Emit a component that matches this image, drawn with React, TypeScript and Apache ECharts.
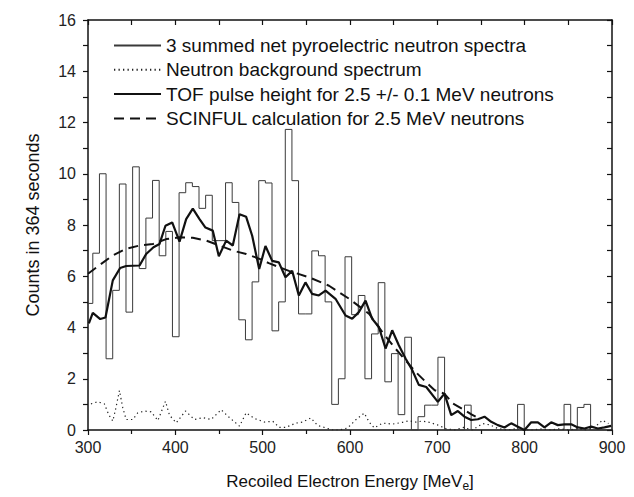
import React, { useEffect, useRef } from "react";
import * as echarts from "echarts";

// ---- histogram: 3 summed net pyroelectric neutron spectra ----
const histStart = 297.9; // MeV, left edge of first (partial) bin
const histWidth = 7.6; // MeV per bin
const histCounts = [
  4.94, 6.9, 10.0, 2.78, 5.45, 9.6, 4.6, 10.27, 6.3, 8.27,
  9.74, 6.8, 7.75, 3.64, 9.26, 9.65, 9.5, 8.65, 9.16, 7.39,
  7.39, 9.65, 8.88, 4.3, 3.52, 5.78, 9.73, 9.64, 3.87, 5.0,
  11.73, 9.73, 4.53, 4.53, 6.99, 6.8, 5.0, 1.0, 2.0, 6.76,
  4.5, 5.25, 2.0, 3.75, 5.75, 1.88, 2.98, 0.6, 3.62, 0,
  0.52, 0.97, 0.97, 2.84, 0, 0, 0, 0.97, 0, 0,
  0, 0, 0, 0, 0, 1.0, 0, 0, 0, 0,
  0, 0, 1.0, 0, 0.88, 1.0, 0, 0, 0, 0,
];

// ---- neutron background spectrum ----
const bgEnergy = [
  303.4, 311, 318.7, 323.7, 328.4, 332, 336, 339.8, 343.7, 351.3,
  357, 364.7, 372.3, 380, 388.7, 393.3, 401, 411.6, 421.9, 431.5,
  441, 452.5, 460.1, 466.6, 473.5, 481.1, 490.6, 502, 511.6, 519,
  526.5, 538, 545.7, 555.2, 562.8, 572.4, 580, 587.6, 597.2, 606.7,
  616.3, 622, 627.7, 637.3, 648.7, 660.2, 667.8, 675.4, 683, 690.7,
  700, 710, 720, 730, 740, 752, 760, 770, 780, 790,
  800, 810, 820, 830, 840, 850, 860, 870, 880, 889, 896,
];
const bgCounts = [
  1.02, 1.1, 1.02, 0.6, 0.35, 0.87, 1.54, 0.87, 0.41, 0.41,
  0.67, 0.74, 0.71, 0.37, 1.12, 0.58, 0.28, 0.74, 0.41, 0.48,
  0.41, 0.79, 0.54, 0.35, 0.15, 0.67, 0.45, 0.31, 0.34, 0.1,
  0.1, 0.27, 0.31, 0.47, 0.18, 0.08, 0.0, 0.0, 0.08, 0.4,
  0.66, 0.31, 0.08, 0.27, 0.23, 0.3, 0.36, 0.31, 0.35, 0.3,
  0.2, 0.05, 0.0, 0.1, 0.0, 0.25, 0.2, 0.05, 0.0, 0.05,
  0.0, 0.0, 0.05, 0.0, 0.05, 0.0, 0.05, 0.0, 0.1, 0.38, 0.25,
];

// ---- TOF pulse height for 2.5 +/- 0.1 MeV neutrons ----
const tofEnergy = [
  301, 305.5, 314, 320, 328.4, 336.8, 343.7, 359, 366.6, 375,
  381.9, 388.7, 396.4, 404.8, 412.4, 420, 427.7, 434.5, 442.9, 449.8,
  458.2, 465.8, 473.5, 481.1, 488, 496, 503.2, 510.9, 518.5, 526.1,
  533.8, 541.4, 549, 556.7, 564.3, 572, 583.4, 594.9, 602.5, 610.1,
  617.8, 625.4, 633, 640.7, 648.3, 655.9, 663.6, 671.2, 678.8, 687.3,
  700.6, 708.2, 715.9, 723.5, 731.1, 738.8, 746.4, 754, 761.7, 769.3,
  776.9, 784.6, 792.2, 799.8, 807.5, 815.1, 822.7, 830.4, 838, 845.6,
  853.3, 860.9, 868.5, 876.2, 883.8, 891.4, 899,
];
const tofCounts = [
  4.16, 4.57, 4.33, 4.39, 5.84, 6.32, 6.4, 6.42, 6.87, 7.13,
  7.26, 7.97, 8.1, 7.35, 8.23, 8.64, 8.23, 7.9, 7.78, 6.78,
  7.39, 7.2, 8.42, 8.32, 7.58, 6.28, 7.18, 6.6, 6.54, 5.96,
  6.21, 5.25, 5.76, 5.31, 5.25, 5.44, 5.12, 4.47, 4.34, 4.6,
  5.05, 4.34, 4.02, 3.18, 3.89, 3.31, 2.79, 2.34, 1.76, 1.68,
  1.1, 1.42, 0.58, 0.74, 0.52, 0.39, 0.42, 0.52, 0.32, 0.19,
  0.1, 0.26, 0.13, 0.0, 0.3, 0.3, 0.1, 0.3, 0.19, 0.22,
  0.22, 0.1, 0.06, 0.13, 0.06, 0.1, 0.16,
];

// ---- SCINFUL calculation for 2.5 MeV neutrons ----
const scinEnergy = [
  300, 312.6, 328.4, 343.7, 359, 374.3, 389.6, 404.8, 420, 435.4,
  450.6, 465.8, 481.1, 496.4, 507, 530, 553, 576, 599, 622,
  637, 652, 675, 687, 697, 708, 718, 731, 739, 745,
];
const scinCounts = [
  6.1, 6.42, 6.81, 7.07, 7.2, 7.26, 7.45, 7.52, 7.5, 7.39,
  7.2, 7.0, 6.87, 6.68, 6.51, 6.21, 5.96, 5.63, 5.12, 4.53,
  3.82, 3.18, 2.27, 1.87, 1.55, 1.42, 1.03, 0.78, 0.61, 0.5,
];

const xMin = 300;
const xMax = 900;
const xInterval = 100;
const yMin = 0;
const yMax = 16;
const yInterval = 2;

const seriesNames = [
  "3 summed net pyroelectric neutron spectra",
  "Neutron background spectrum",
  "TOF pulse height for 2.5 +/- 0.1 MeV neutrons",
  "SCINFUL calculation for 2.5 MeV neutrons",
];

const FONT = "'Liberation Sans', Arial, Helvetica, sans-serif";

export default function App() {
  const ref = useRef<HTMLDivElement>(null);

  useEffect(() => {
    if (!ref.current) return;
    const chart = echarts.init(ref.current, undefined, { renderer: "svg" });

    const histData: number[][] = histCounts.map((v, i) => [histStart + i * histWidth, v]);
    histData.push([histStart + histCounts.length * histWidth, 0]);

    const pair = (xs: number[], ys: number[]) => xs.map((x, i) => [x, ys[i]]);

    chart.setOption({
      animation: false,
      backgroundColor: "#ffffff",
      textStyle: { fontFamily: FONT },
      grid: { left: 88, right: 22, top: 20, bottom: 65, containLabel: false },
      legend: {
        left: 113,
        top: 36,
        padding: 0,
        orient: "vertical",
        itemWidth: 47,
        itemHeight: 14,
        itemGap: 5.3,
        selectedMode: false,
        itemStyle: { opacity: 0 },
        textStyle: { fontSize: 19, color: "#111", fontFamily: FONT, lineHeight: 19 },
        data: seriesNames,
      },
      xAxis: [
        {
          type: "value",
          position: "bottom",
          min: xMin,
          max: xMax,
          interval: xInterval,
          axisLine: { onZero: false, lineStyle: { color: "#111", width: 1.5 } },
          axisTick: { inside: false, length: 5, lineStyle: { color: "#111", width: 1.2 } },
          minorTick: { show: true, splitNumber: 2, length: 4, lineStyle: { color: "#111", width: 1.2 } },
          axisLabel: { fontSize: 16, color: "#222", margin: 9, fontFamily: FONT },
          splitLine: { show: false },
          name: "{a|Recoiled Electron Energy [MeV}{s|e}{a|]}",
          nameLocation: "middle",
          nameGap: 40,
          nameTextStyle: {
            rich: {
              a: { fontSize: 17, color: "#111", fontFamily: FONT },
              s: { fontSize: 12, color: "#111", fontFamily: FONT, padding: [10, 0, 0, 0] },
            },
          },
        },
        {
          type: "value",
          position: "top",
          min: xMin,
          max: xMax,
          interval: 50,
          axisLine: { onZero: false, lineStyle: { color: "#111", width: 1.5 } },
          axisTick: { inside: true, length: 5, lineStyle: { color: "#111", width: 1.2 } },
          axisLabel: { show: false },
          splitLine: { show: false },
        },
      ],
      yAxis: [
        {
          type: "value",
          position: "left",
          min: yMin,
          max: yMax,
          interval: yInterval,
          axisLine: { show: true, onZero: false, lineStyle: { color: "#111", width: 1.5 } },
          axisTick: { show: true, inside: false, length: 5, lineStyle: { color: "#111", width: 1.2 } },
          minorTick: { show: true, splitNumber: 2, length: 5, lineStyle: { color: "#111", width: 1.2 } },
          axisLabel: { fontSize: 16, color: "#222", margin: 12, fontFamily: FONT },
          splitLine: { show: false },
          name: "Counts in 364 seconds",
          nameLocation: "middle",
          nameGap: 46,
          nameRotate: 90,
          nameTextStyle: { fontSize: 18, color: "#111", fontFamily: FONT },
        },
        {
          type: "value",
          position: "right",
          min: yMin,
          max: yMax,
          interval: 1,
          axisLine: { show: true, onZero: false, lineStyle: { color: "#111", width: 1.5 } },
          axisTick: { show: true, inside: true, length: 5, lineStyle: { color: "#111", width: 1.2 } },
          axisLabel: { show: false },
          splitLine: { show: false },
        },
      ],
      series: [
        {
          name: seriesNames[0],
          type: "line",
          step: "end",
          data: histData,
          symbol: "none",
          clip: true,
          lineStyle: { color: "#3a3a3a", width: 1 },
          itemStyle: { color: "#3a3a3a" },
          z: 2,
        },
        {
          name: seriesNames[1],
          type: "line",
          data: pair(bgEnergy, bgCounts),
          symbol: "none",
          clip: true,
          lineStyle: { color: "#222", width: 1.2, type: [1.3, 3.2] },
          itemStyle: { color: "#222" },
          z: 3,
        },
        {
          name: seriesNames[2],
          type: "line",
          data: pair(tofEnergy, tofCounts),
          symbol: "none",
          clip: true,
          lineStyle: { color: "#111", width: 2.2 },
          itemStyle: { color: "#111" },
          z: 4,
        },
        {
          name: seriesNames[3],
          type: "line",
          data: pair(scinEnergy, scinCounts),
          symbol: "none",
          clip: true,
          lineStyle: { color: "#111", width: 2, type: [10, 6] },
          itemStyle: { color: "#111" },
          z: 5,
        },
      ],
    });

    return () => chart.dispose();
  }, []);

  return (
    <div
      ref={ref}
      style={{ position: "fixed", left: 0, top: 0, width: 634, height: 497, background: "#fff" }}
    />
  );
}
